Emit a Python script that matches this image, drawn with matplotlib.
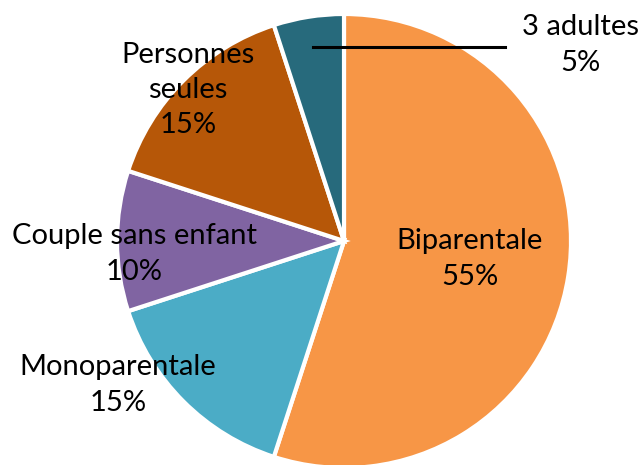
import matplotlib.pyplot as plt

categories = ['Biparentale', 'Monoparentale', 'Couple sans enfant', 'Personnes seules', '3 adultes']
parts = [55, 15, 10, 15, 5]
colors = ['#F79646', '#4BACC6', '#8064A2', '#B65708', '#276A7C']

label_texts = ['Biparentale\n55%', 'Monoparentale\n15%', 'Couple sans enfant\n10%',
               'Personnes\nseules\n15%', '3 adultes\n5%']

W, H = 643, 465
fig = plt.figure(figsize=(W / 100, H / 100), dpi=100)
ax = fig.add_axes([0, 0, 1, 1])

cx, cy, r = 344, H - 241, 227
ax.pie(parts, colors=colors, startangle=90, counterclock=False,
       center=(cx, cy), radius=r, frame=True,
       wedgeprops=dict(edgecolor='white', linewidth=3))
ax.set_xlim(0, W)
ax.set_ylim(0, H)
ax.set_aspect('equal')
ax.axis('off')

# label positions in pixels (x, y from top)
pos = [(470, 259), (118, 385), (134, 254), (188, 90), (580, 45)]
for txt, (x, y) in zip(label_texts, pos):
    ax.text(x, H - y, txt, ha='center', va='center', fontsize=21,
            family='Lato', linespacing=1.45)

ax.plot([313, 505], [H - 47, H - 47], color='black', lw=2.2)

fig.savefig('out.png', dpi=100)
